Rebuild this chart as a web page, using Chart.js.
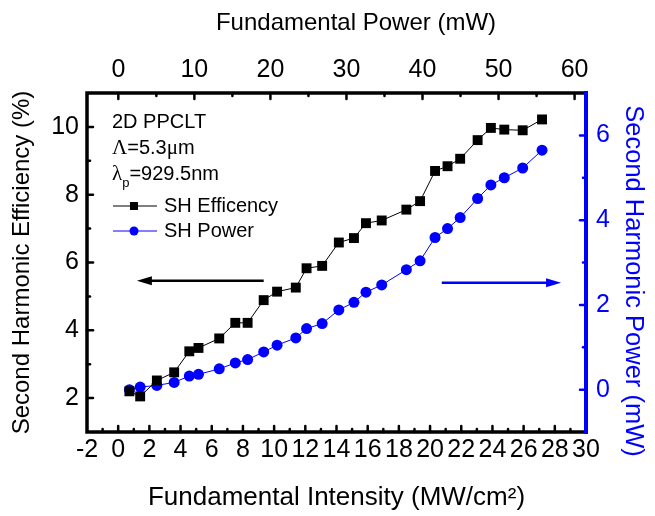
<!DOCTYPE html>
<html>
<head>
<meta charset="utf-8">
<script src="https://cdn.jsdelivr.net/npm/chart.js@4.4.0/dist/chart.umd.min.js"></script>
<style>
  html, body { margin: 0; padding: 0; background: #fff; }
  #wrap { width: 655px; height: 516px; }
</style>
</head>
<body>
<div id="wrap"><canvas id="shgChart" width="655" height="516"></canvas></div>
<script>
// values
const intensity = [0.72, 1.41, 2.48, 3.59, 4.56, 5.15, 6.48, 7.51, 8.30, 9.33, 10.19, 11.39, 12.08, 13.08,
                   14.15, 15.12, 15.89, 16.90, 18.48, 19.36, 20.32, 21.12, 21.93, 23.05, 23.90, 24.76, 25.94, 27.18];
const shEfficiency = [2.20, 2.05, 2.52, 2.76, 3.38, 3.48, 3.76, 4.22, 4.22, 4.89, 5.14, 5.26, 5.83, 5.90,
                      6.59, 6.72, 7.16, 7.24, 7.56, 7.81, 8.70, 8.84, 9.06, 9.61, 9.97, 9.92, 9.90, 10.22];
const shPower = [0.00, 0.06, 0.10, 0.17, 0.32, 0.36, 0.49, 0.63, 0.71, 0.89, 1.05, 1.22, 1.44, 1.56,
                 1.88, 2.06, 2.30, 2.47, 2.83, 3.04, 3.59, 3.80, 4.06, 4.51, 4.83, 5.00, 5.23, 5.65];

const intensityTicks = [-2, 0, 2, 4, 6, 8, 10, 12, 14, 16, 18, 20, 22, 24, 26, 28, 30];
const fundPowerTicks = [0, 10, 20, 30, 40, 50, 60];
const efficiencyTicks = [2, 4, 6, 8, 10];
const shPowerTicks = [0, 2, 4, 6];

// arrows (data units): which axis they point to
const leftArrow = { from: 9.33, to: 1.2, y: 5.46 };
const rightArrow = { from: 20.75, to: 28.4, y: 2.52 };

const BLUE = '#0000ff';
const SANS = '"Liberation Sans", Arial, sans-serif';
const SERIF = '"Liberation Serif", "DejaVu Serif", serif';

const ctx = document.getElementById('shgChart').getContext('2d');

function fixedTicks(list) {
    return s => { s.ticks = list.map(v => ({ value: v })); };
}

function drawRuns(c, x, y, runs) {
    runs.forEach(r => {
        c.font = r.font;
        c.fillText(r.t, x, y + (r.dy || 0));
        x += c.measureText(r.t).width;
    });
}

const decor = {
    id: 'decor',
    afterDatasetsDraw(chart) {
        const { ctx: c, chartArea: a, scales } = chart;
        c.save();
        c.lineCap = 'round';
        c.lineWidth = 2.5;

        // inward ticks
        c.strokeStyle = '#000';
        for (let v = -1; v < 30; v++) {
            const px = scales.x.getPixelForValue(v);
            const len = v % 2 === 0 ? 6 : 3;
            c.beginPath(); c.moveTo(px, a.bottom); c.lineTo(px, a.bottom - len); c.stroke();
        }
        for (let v = 0; v <= 60; v += 5) {
            const px = scales.x2.getPixelForValue(v);
            const len = v % 10 === 0 ? 6 : 3;
            c.beginPath(); c.moveTo(px, a.top); c.lineTo(px, a.top + len); c.stroke();
        }
        for (let v = 2; v <= 10; v++) {
            const py = scales.y.getPixelForValue(v);
            const len = v % 2 === 0 ? 6 : 3;
            c.beginPath(); c.moveTo(a.left, py); c.lineTo(a.left + len, py); c.stroke();
        }
        c.strokeStyle = BLUE;
        for (let v = 0; v <= 6; v++) {
            const py = scales.y2.getPixelForValue(v);
            const len = v % 2 === 0 ? 6 : 3;
            c.beginPath(); c.moveTo(a.right, py); c.lineTo(a.right - len, py); c.stroke();
        }

        // frame
        c.lineCap = 'butt';
        c.lineWidth = 3.5;
        c.strokeStyle = '#000';
        c.beginPath();
        c.moveTo(a.right, a.top); c.lineTo(a.left, a.top); c.lineTo(a.left, a.bottom); c.lineTo(a.right, a.bottom);
        c.stroke();
        c.lineWidth = 4;
        c.strokeStyle = BLUE;
        c.beginPath(); c.moveTo(a.right, a.top - 2); c.lineTo(a.right, a.bottom + 2); c.stroke();

        // arrows
        const arrow = (x0, x1, y, color) => {
            const dir = Math.sign(x1 - x0);
            c.strokeStyle = color; c.fillStyle = color; c.lineWidth = 2.5;
            c.beginPath(); c.moveTo(x0, y); c.lineTo(x1 - dir * 12, y); c.stroke();
            c.beginPath(); c.moveTo(x1, y); c.lineTo(x1 - dir * 15, y - 4.5); c.lineTo(x1 - dir * 15, y + 4.5); c.closePath(); c.fill();
        };
        arrow(scales.x.getPixelForValue(leftArrow.from), scales.x.getPixelForValue(leftArrow.to),
              scales.y.getPixelForValue(leftArrow.y), '#000');
        arrow(scales.x.getPixelForValue(rightArrow.from), scales.x.getPixelForValue(rightArrow.to),
              scales.y2.getPixelForValue(rightArrow.y), BLUE);

        // sample description + legend
        const tx = a.left + 25;
        c.fillStyle = '#000';
        c.textBaseline = 'middle';
        c.textAlign = 'left';
        drawRuns(c, tx, a.top + 29, [{ t: '2D PPCLT', font: '20px ' + SANS }]);
        drawRuns(c, tx, a.top + 55, [
            { t: 'Λ', font: '21px ' + SERIF }, { t: '=5.3', font: '20px ' + SANS },
            { t: 'μ', font: '21px ' + SERIF }, { t: 'm', font: '20px ' + SANS }]);
        drawRuns(c, tx, a.top + 81, [
            { t: 'λ', font: '21px ' + SERIF }, { t: 'p', font: '13px ' + SANS, dy: 9 },
            { t: '=929.5nm', font: '20px ' + SANS }]);

        const ly1 = a.top + 113, ly2 = a.top + 138, lx0 = tx + 1, lx1 = tx + 45, mx = tx + 22;
        c.lineWidth = 1;
        c.strokeStyle = '#000';
        c.beginPath(); c.moveTo(lx0, ly1); c.lineTo(lx1, ly1); c.stroke();
        c.fillStyle = '#000';
        c.fillRect(mx - 4, ly1 - 4, 8, 8);
        c.strokeStyle = BLUE;
        c.beginPath(); c.moveTo(lx0, ly2); c.lineTo(lx1, ly2); c.stroke();
        c.fillStyle = BLUE;
        c.beginPath(); c.arc(mx, ly2, 4.5, 0, Math.PI * 2); c.fill();
        c.fillStyle = '#000';
        drawRuns(c, lx1 + 7, ly1, [{ t: 'SH Efficency', font: '20px ' + SANS }]);
        drawRuns(c, lx1 + 7, ly2, [{ t: 'SH Power', font: '20px ' + SANS }]);

        // top and right axis titles (sit off-centre in the original)
        c.textAlign = 'center';
        c.fillStyle = '#000';
        c.font = '24px ' + SANS;
        c.fillText('Fundamental Power (mW)', 356, 23);
        c.save();
        c.translate(633, 281);
        c.rotate(Math.PI / 2);
        c.fillStyle = BLUE;
        c.font = '25.5px ' + SANS;
        c.fillText('Second Harmonic Power (mW)', 0, 0);
        c.restore();
        c.restore();
    }
};

const tickFont = { family: SANS, size: 25 };

const shgChart = new Chart(ctx, {
    type: 'scatter',
    data: {
        datasets: [
            {
                label: 'SH Efficency',
                data: intensity.map((x, i) => ({ x: x, y: shEfficiency[i] })),
                xAxisID: 'x', yAxisID: 'y',
                showLine: true, borderColor: '#000', borderWidth: 1,
                pointStyle: 'rect', pointRadius: 7, pointBackgroundColor: '#000', pointBorderWidth: 0
            },
            {
                label: 'SH Power',
                data: intensity.map((x, i) => ({ x: x, y: shPower[i] })),
                xAxisID: 'x', yAxisID: 'y2',
                showLine: true, borderColor: BLUE, borderWidth: 1,
                pointStyle: 'circle', pointRadius: 5.5, pointBackgroundColor: BLUE, pointBorderWidth: 0
            }
        ]
    },
    options: {
        responsive: false, animation: false, devicePixelRatio: 1,
        layout: { padding: 0 },
        plugins: { legend: { display: false }, tooltip: { enabled: false } },
        scales: {
            x: {
                type: 'linear', position: 'bottom', min: -2, max: 30,
                afterBuildTicks: fixedTicks(intensityTicks),
                afterFit: s => { s.height = 84; },
                grid: { display: false, drawTicks: false }, border: { display: false },
                ticks: { color: '#000', font: tickFont, padding: 3, maxRotation: 0, autoSkip: false },
                title: { display: true, text: 'Fundamental Intensity (MW/cm²)', color: '#000', font: { family: SANS, size: 26 }, padding: { top: 0, bottom: 3 } }
            },
            x2: {
                type: 'linear', position: 'top', min: -4.12, max: 61.5,
                afterBuildTicks: fixedTicks(fundPowerTicks),
                afterFit: s => { s.height = 93; },
                grid: { display: false, drawTicks: false }, border: { display: false },
                ticks: { color: '#000', font: tickFont, padding: 8, maxRotation: 0, autoSkip: false },
                title: { display: false }
            },
            y: {
                type: 'linear', position: 'left', min: 1, max: 11,
                afterBuildTicks: fixedTicks(efficiencyTicks),
                afterFit: s => { s.width = 87; },
                grid: { display: false, drawTicks: false }, border: { display: false },
                ticks: { color: '#000', font: tickFont, padding: 8 },
                title: { display: true, text: 'Second Harmonic Efficiency (%)', color: '#000', font: { family: SANS, size: 24 }, padding: { top: 8, bottom: 0 } }
            },
            y2: {
                type: 'linear', position: 'right', min: -1, max: 7,
                afterBuildTicks: fixedTicks(shPowerTicks),
                afterFit: s => { s.width = 69; },
                grid: { display: false, drawTicks: false }, border: { display: false },
                ticks: { color: BLUE, font: tickFont, padding: 10 },
                title: { display: false }
            }
        }
    },
    plugins: [decor]
});
</script>
</body>
</html>
